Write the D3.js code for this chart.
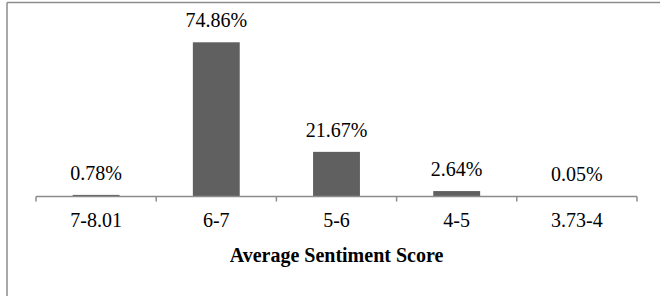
<!DOCTYPE html>
<html>
<head>
<meta charset="utf-8">
<script src="https://cdn.jsdelivr.net/npm/d3@7"></script>
<style>
  body { margin: 0; background: #fff; }
  text { font-family: "Liberation Serif", "Times New Roman", serif; fill: #000; }
</style>
</head>
<body>
<script>
  var categories = ["7-8.01", "6-7", "5-6", "4-5", "3.73-4"];
  var shares = [0.78, 74.86, 21.67, 2.64, 0.05];
  var axisTitle = "Average Sentiment Score";

  var width = 660, height = 296;

  var svg = d3.select("body")
    .append("svg")
      .attr("width", width)
      .attr("height", height);

  /* frame (only top and left edges show in the picture) */
  svg.append("line")
    .attr("x1", 7).attr("y1", 2.5).attr("x2", width).attr("y2", 2.5)
    .attr("stroke", "#8c8c8c").attr("stroke-width", 1.5);
  svg.append("line")
    .attr("x1", 7).attr("y1", 2.5).attr("x2", 7).attr("y2", height)
    .attr("stroke", "#8c8c8c").attr("stroke-width", 1.5);

  var x = d3.scaleBand()
    .domain(categories)
    .range([36, 637])
    .padding(0);

  var y = d3.scaleLinear()
    .domain([0, 80])
    .range([196.5, 31.7]);

  var barW = x.bandwidth() * 0.39;

  /* bars */
  svg.selectAll("rect.bar")
    .data(shares)
    .enter()
    .append("rect")
      .attr("class", "bar")
      .attr("x", function (d, i) { return x(categories[i]) + (x.bandwidth() - barW) / 2; })
      .attr("y", function (d) { return y(d); })
      .attr("width", barW)
      .attr("height", function (d) { return y(0) - y(d); })
      .attr("fill", "#606060");

  /* value labels */
  svg.selectAll("text.val")
    .data(shares)
    .enter()
    .append("text")
      .attr("class", "val")
      .attr("x", function (d, i) { return x(categories[i]) + x.bandwidth() / 2; })
      .attr("y", function (d) { return y(d) - 15; })
      .attr("text-anchor", "middle")
      .style("font-size", "20px")
      .text(function (d) { return d.toFixed(2) + "%"; });

  /* x axis: ticks on band boundaries */
  var axisG = svg.append("g")
    .attr("transform", "translate(0," + y(0) + ")");

  axisG.append("line")
    .attr("x1", 36).attr("x2", 637)
    .attr("stroke", "#8c8c8c").attr("stroke-width", 1.5);

  var bounds = categories.map(function (c) { return x(c); }).concat([637]);
  axisG.selectAll("line.tick")
    .data(bounds)
    .enter()
    .append("line")
      .attr("class", "tick")
      .attr("x1", function (d) { return d; })
      .attr("x2", function (d) { return d; })
      .attr("y1", 0).attr("y2", 5)
      .attr("stroke", "#8c8c8c").attr("stroke-width", 1.5);

  axisG.selectAll("text.cat")
    .data(categories)
    .enter()
    .append("text")
      .attr("class", "cat")
      .attr("x", function (d) { return x(d) + x.bandwidth() / 2; })
      .attr("y", 30.5)
      .attr("text-anchor", "middle")
      .style("font-size", "20px")
      .text(function (d) { return d; });

  svg.append("text")
    .attr("x", 336.5)
    .attr("y", 262)
    .attr("text-anchor", "middle")
    .style("font-size", "20px")
    .style("font-weight", "bold")
    .text(axisTitle);
</script>
</body>
</html>
